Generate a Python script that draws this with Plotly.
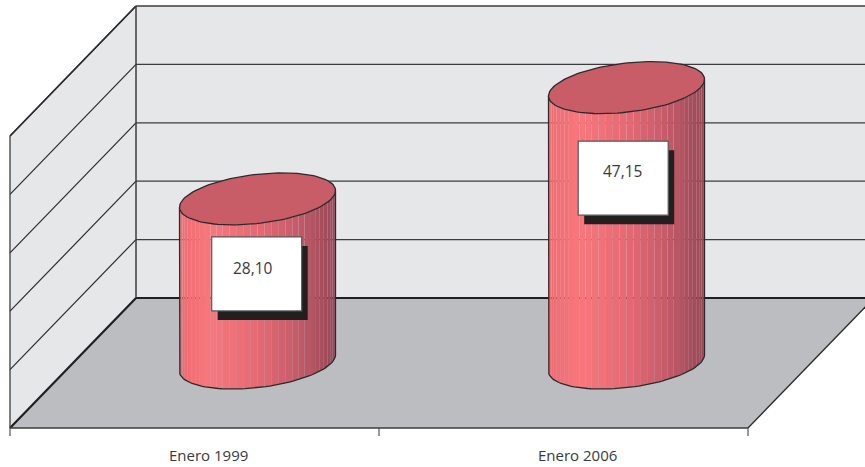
import math
import plotly.graph_objects as go

# --- data ---
categories = ["Enero 1999", "Enero 2006"]
values = [28.10, 47.15]
value_labels = ["28,10", "47,15"]
value_ticks = [0, 10, 20, 30, 40, 50]
category_edges = [-0.5, 0.5, 1.5]

# --- scales (pixels per axis unit) ---
W, H = 865, 467
PX_U, PX_V = 369.0, 5.84
X0_PX, BACK_Y_PX = 194.5, 298.0      # pixel of category 0 at front, pixel of value 0 on back wall
DX, DY = 126 / PX_U, 130 / PX_V      # oblique depth offsets in axis units
XR = [-X0_PX / PX_U, (W - X0_PX) / PX_U]
YR = [(BACK_Y_PX - H) / PX_V, BACK_Y_PX / PX_V]

def proj(u, v, d):
    """category u, value v, depth d (0 front, 1 back) -> axis coordinates"""
    return u + d * DX, v - (1 - d) * DY

def path(pts, close=True):
    return "M " + " L ".join(f"{x:.5f},{y:.5f}" for x, y in pts) + (" Z" if close else "")

# cylinder cross-section
RA, RB, RC = 73.9 / PX_U, 25.0 / PX_U, 26.0 / PX_V
TAU = math.atan2(RB, RA)
N_STRIPS = 34

def ring(u, v, t):
    x, y = proj(u, v, 0.5)
    return x + RA * math.cos(t) + RB * math.sin(t), y + RC * math.sin(t)

STOPS = [(0.0, (238, 108, 114)), (0.2, (247, 119, 125)), (0.5, (229, 106, 116)),
         (0.75, (197, 92, 106)), (1.0, (152, 72, 87))]

def body_colour(f):
    for (a, ca), (b, cb) in zip(STOPS, STOPS[1:]):
        if f <= b:
            k = (f - a) / (b - a)
            return "rgb({},{},{})".format(*[round(p + (q - p) * k) for p, q in zip(ca, cb)])
    return "rgb(152,72,87)"

LINE = "#2b2b2d"
fig = go.Figure()
shapes = []

def poly(pts, fill):
    shapes.append(dict(type="path", path=path(pts), fillcolor=fill, line_width=0, layer="below"))

def seg(a, b, width=1.3, colour=LINE):
    shapes.append(dict(type="line", x0=a[0], y0=a[1], x1=b[0], y1=b[1],
                       line=dict(color=colour, width=width), layer="below"))

left, right = category_edges[0], category_edges[-1]
top = value_ticks[-1]
# walls and floor
poly([proj(left, 0, 0), proj(left, 0, 1), proj(right, 0, 1), proj(right, 0, 0)], "#bcbdc0")
poly([proj(left, 0, 1), proj(right, 0, 1), proj(right, top, 1), proj(left, top, 1)], "#e6e7e9")
poly([proj(left, 0, 0), proj(left, 0, 1), proj(left, top, 1), proj(left, top, 0)], "#e6e7e9")
# gridlines
for v in value_ticks[1:]:
    seg(proj(left, v, 0), proj(left, v, 1), 1.2)
    seg(proj(left, v, 1), proj(right, v, 1), 1.3, "#3c3c3e")
seg(proj(left, top, 0), proj(left, top, 1), 1.6)
seg(proj(left, 0, 1), proj(right, 0, 1), 2.2, "#1f1f21")
seg(proj(left, 0, 1), proj(left, top, 1), 1.5, "#3c3c3e")
seg(proj(left, 0, 0), proj(left, 0, 1), 2.2, "#1f1f21")
seg(proj(right, 0, 0), proj(right, 0, 1), 1.3)
seg(proj(left, 0, 0), proj(right, 0, 0), 1.5, "#3c3c3e")
seg(proj(left, 0, 0), proj(left, top, 0), 1.3, "#3c3c3e")
for e in category_edges:
    x, y = proj(e, 0, 0)
    seg((x, y), (x, y - 8 / PX_V), 1.2, "#555557")

# cylinders
for i, val in enumerate(values):
    for s in range(N_STRIPS):
        t0 = math.pi + TAU + math.pi * s / N_STRIPS
        t1 = math.pi + TAU + math.pi * (s + 1) / N_STRIPS
        low = [ring(i, 0, t0), ring(i, 0, (t0 + t1) / 2), ring(i, 0, t1)]
        high = [ring(i, val, t1), ring(i, val, t0)]
        pts = low + high + low[:1]
        f = (math.cos((t0 + t1) / 2 - TAU) + 1) / 2
        fig.add_trace(go.Scatter(x=[p[0] for p in pts], y=[p[1] for p in pts], mode="lines",
                                 fill="toself", fillcolor=body_colour(f), line_width=0,
                                 hoverinfo="skip", showlegend=False))
    ts = [math.pi + TAU + math.pi * k / 60 for k in range(61)]
    outline = [ring(i, val, ts[0])] + [ring(i, 0, t) for t in ts] + [ring(i, val, ts[-1])]
    fig.add_trace(go.Scatter(x=[p[0] for p in outline], y=[p[1] for p in outline], mode="lines",
                             line=dict(color=LINE, width=1.3), hoverinfo="skip", showlegend=False))
    cap = [ring(i, val, 2 * math.pi * k / 120) for k in range(121)]
    fig.add_trace(go.Scatter(x=[p[0] for p in cap], y=[p[1] for p in cap], mode="lines",
                             fill="toself", fillcolor="#c95d67", line=dict(color=LINE, width=1.3),
                             hoverinfo="skip", showlegend=False))

# value boxes: pixel offsets from the centre of each cylinder's top
BOX_OFFSET = [(-0.8, -75.0), (-3.3, -90.5)]
TEXT_OFFSET = [(-3.5, 6.0), (-0.5, 7.5)]
annotations = []
for i, val in enumerate(values):
    ax, ay = proj(i, val, 0.5)
    ox, oy = BOX_OFFSET[i]
    common = dict(xsizemode="pixel", ysizemode="pixel", xanchor=ax, yanchor=ay, layer="above")
    shapes.append(dict(type="rect", x0=ox - 39, x1=ox + 51, y0=oy - 46, y1=oy + 28,
                       fillcolor="#231f20", line_width=0, **common))
    shapes.append(dict(type="rect", x0=ox - 45, x1=ox + 45, y0=oy - 37, y1=oy + 37,
                       fillcolor="#ffffff", line=dict(color="#58595b", width=1.2), **common))
    annotations.append(dict(x=ax, y=ay, xshift=ox + TEXT_OFFSET[i][0], yshift=oy + TEXT_OFFSET[i][1],
                            text=value_labels[i], showarrow=False, xanchor="center", yanchor="middle",
                            font=dict(family="Open Sans", size=15.5, color="#3a3a3c")))

# category labels below the front edge
for i, c in enumerate(categories):
    x, y = proj(i, 0, 0)
    annotations.append(dict(x=x, y=y, xshift=13.5, yshift=-27, text=c, showarrow=False,
                            xanchor="center", yanchor="middle",
                            font=dict(family="Open Sans", size=15, color="#3a3a3c")))

fig.update_layout(width=W, height=H, margin=dict(l=0, r=0, t=0, b=0, pad=0),
                  paper_bgcolor="white", plot_bgcolor="white", showlegend=False,
                  xaxis=dict(range=XR, visible=False, fixedrange=True),
                  yaxis=dict(range=YR, visible=False, fixedrange=True),
                  shapes=shapes, annotations=annotations)
fig.write_html("out.html", config={"displayModeBar": False},
               post_script="document.body.style.margin='0';")
